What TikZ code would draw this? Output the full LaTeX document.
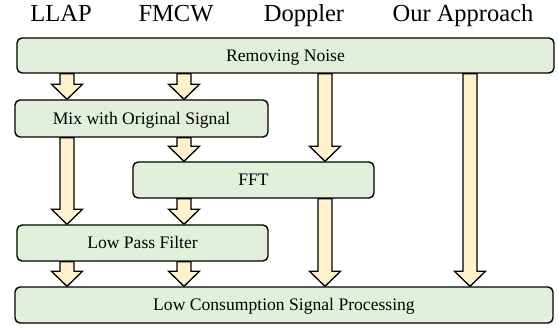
\documentclass[tikz,border=0pt]{standalone}
\usepackage{fontspec}
\setmainfont{Liberation Serif}
\usetikzlibrary{calc,backgrounds}
\definecolor{boxfill}{HTML}{E2EFDA}
\definecolor{arrfill}{HTML}{FFF2CC}
\newcommand\FatArrow[2]{%
  \draw[fatarr] let \p1=#1, \p2=#2 in
    (\x1-7pt,\y1) -- (\x1-7pt,\y2+15pt) -- (\x1-15.5pt,\y2+15pt) -- (\x1,\y2)
    -- (\x1+15.5pt,\y2+15pt) -- (\x1+7pt,\y2+15pt) -- (\x1+7pt,\y1) -- cycle;}
\begin{document}
\begin{tikzpicture}[x=1pt,y=-1pt,
  stepbox/.style={draw=black, line width=1.4pt, fill=boxfill, rounded corners=5pt,
    inner sep=0pt, text height=11.65pt, text depth=0pt,
    font=\fontsize{17.6}{20}\selectfont},
  fatarr/.style={draw=black, line width=1.3pt, fill=arrfill, line join=miter},
  toplabel/.style={anchor=base, inner sep=0pt, font=\fontsize{24.5}{29}\selectfont}]
\useasboundingbox (0,0) rectangle (558,329);
% column labels
\node[toplabel] (llap) at (61,21.5) {LLAP};
\node[toplabel] (fmcw) at (176,21.5) {FMCW};
\node[toplabel] (dopp) at (304,21.5) {Doppler};
\node[toplabel] (ours) at (463,21.5) {Our Approach};
% column positions of the arrows
\coordinate (c1) at (67,0);
\coordinate (c2) at (184,0);
\coordinate (c3) at (325,0);
\coordinate (c4) at (470,0);
% boxes
\node[stepbox, minimum width=537pt, minimum height=35pt] (rn) at (285.5,55.5) {Removing Noise};
\node[stepbox, minimum width=253pt, minimum height=37pt] (mix) at (141.5,118.5) {Mix with Original Signal};
\node[stepbox, minimum width=241pt, minimum height=36pt] (fft) at (253.5,180) {FFT};
\node[stepbox, minimum width=251pt, minimum height=36pt] (lpf) at (142.5,243) {Low Pass Filter};
\node[stepbox, minimum width=538pt, minimum height=36pt] (lcsp) at (284,305) {Low Consumption Signal Processing};
% arrows
\begin{scope}[on background layer]
\FatArrow{(rn.south -| c1)}{(mix.north -| c1)}
\FatArrow{(rn.south -| c2)}{(mix.north -| c2)}
\FatArrow{(rn.south -| c3)}{(fft.north -| c3)}
\FatArrow{(rn.south -| c4)}{(lcsp.north -| c4)}
\FatArrow{(mix.south -| c1)}{(lpf.north -| c1)}
\FatArrow{(mix.south -| c2)}{(fft.north -| c2)}
\FatArrow{(fft.south -| c2)}{(lpf.north -| c2)}
\FatArrow{(fft.south -| c3)}{(lcsp.north -| c3)}
\FatArrow{(lpf.south -| c1)}{(lcsp.north -| c1)}
\FatArrow{(lpf.south -| c2)}{(lcsp.north -| c2)}
\end{scope}
\end{tikzpicture}
\end{document}
